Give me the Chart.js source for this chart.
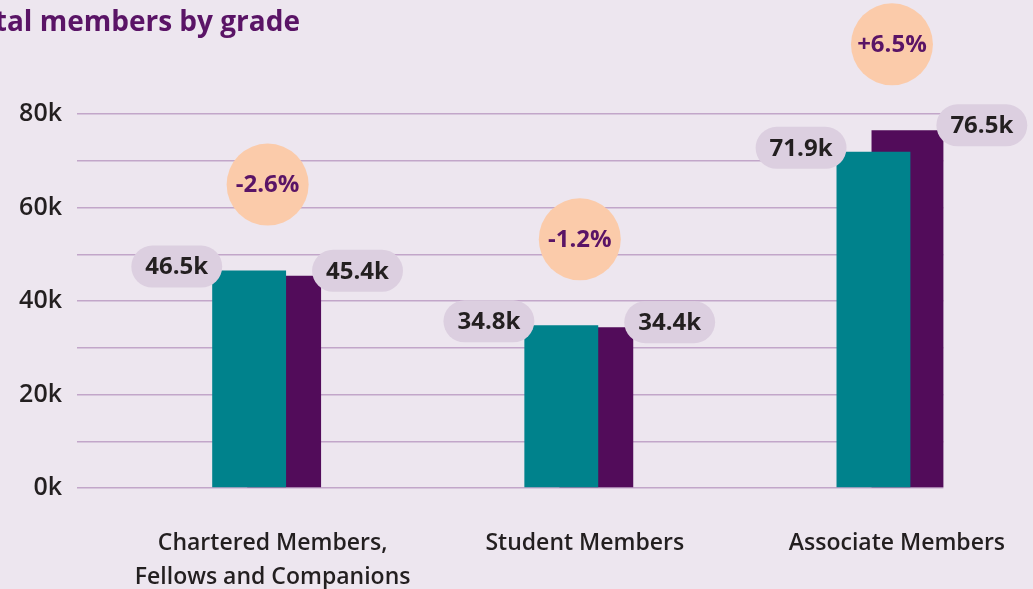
<!DOCTYPE html>
<html>
<head>
<meta charset="utf-8">
<title>Total members by grade</title>
<script src="https://cdn.jsdelivr.net/npm/chart.js@4.4.0/dist/chart.umd.min.js"></script>
<style>
  html, body { margin: 0; padding: 0; background: #ede6ef; overflow: hidden; }
  #wrap { position: relative; width: 1033px; height: 589px; }
  #title {
    position: absolute; right: 733px; top: 1px; white-space: nowrap;
    font: bold 28px "Open Sans"; line-height: 38px; color: #5a1466;
  }
  canvas { position: absolute; left: 0; top: 0; }
</style>
</head>
<body>
<div id="wrap">
  <canvas id="membersChart" width="1033" height="589"></canvas>
  <div id="title">Total members by grade</div>
</div>
<script>
// data
const categories = ['Chartered Members, Fellows and Companions', 'Student Members', 'Associate Members'];
const tickLabels = [['Chartered Members,', 'Fellows and Companions'], ['Student Members'], ['Associate Members']];
const previousYear = [46500, 34800, 71900];
const currentYear = [45400, 34400, 76500];
const changeLabels = ['-2.6%', '-1.2%', '+6.5%'];

const TEAL = '#00828c';
const PURPLE = '#520c5a';
const TEXT = '#231f20';
const FONT = '"Open Sans", sans-serif';
const X_MIN = -0.6075;
const X_MAX = 2.168;

const fmtK = v => (v / 1000).toFixed(1) + 'k';

function pill(ctx, text, edgeX, y, side) {
  ctx.font = 'bold 24px ' + FONT;
  const w = ctx.measureText(text).width + 28;
  const h = 42;
  const x = side === 'right' ? edgeX - w : edgeX;
  ctx.fillStyle = '#dccfe0';
  ctx.beginPath();
  ctx.roundRect(x, y - h / 2, w, h, h / 2);
  ctx.fill();
  ctx.fillStyle = TEXT;
  ctx.fillText(text, x + w / 2, y + 1);
}

// value pills and change bubbles
const annotate = {
  id: 'annotate',
  afterDatasetsDraw(chart) {
    const ctx = chart.ctx;
    const prev = chart.getDatasetMeta(0).data;
    const curr = chart.getDatasetMeta(1).data;
    ctx.save();
    ctx.textAlign = 'center';
    ctx.textBaseline = 'middle';
    categories.forEach((c, i) => {
      const a = prev[i], b = curr[i];
      pill(ctx, fmtK(previousYear[i]), a.x - a.width / 2 + 10, a.y - 4, 'right');
      pill(ctx, fmtK(currentYear[i]), b.x + b.width / 2 - 9, b.y - 5, 'left');

      const cx = chart.scales.x.getPixelForValue(i) + 1;
      const cy = Math.min(a.y, b.y) - 86;
      ctx.fillStyle = '#fbcbaa';
      ctx.beginPath();
      ctx.arc(cx, cy, 41, 0, Math.PI * 2);
      ctx.fill();
      ctx.fillStyle = '#5a1466';
      ctx.font = 'bold 24px ' + FONT;
      ctx.fillText(changeLabels[i], cx, cy + 1);
    });
    ctx.restore();
  }
};

new Chart(document.getElementById('membersChart'), {
  type: 'bar',
  data: {
    datasets: [
      {
        label: 'Last year',
        data: previousYear.map((v, i) => ({ x: i, y: v })),
        backgroundColor: TEAL,
        order: 1
      },
      {
        label: 'This year',
        data: currentYear.map((v, i) => ({ x: i, y: v })),
        backgroundColor: PURPLE,
        order: 2
      }
    ]
  },
  options: {
    responsive: false,
    animation: false,
    categoryPercentage: 0.2243,
    barPercentage: 2.11,
    layout: { padding: { top: 114, right: 65, left: 0, bottom: 0 } },
    plugins: { legend: { display: false }, tooltip: { enabled: false } },
    scales: {
      x: {
        type: 'linear',
        offset: false,
        bounds: 'data',
        min: X_MIN,
        max: X_MAX,
        afterBuildTicks: s => {
          s.ticks = categories.map((c, i) => ({ value: i }));
          s.min = X_MIN;
          s.max = X_MAX;
        },
        afterFit: s => { s.height = 101; },
        grid: { display: false, offset: false },
        border: { display: false },
        ticks: {
          autoSkip: false,
          maxRotation: 0,
          padding: 30,
          labelOffset: 6,
          color: TEXT,
          font: { family: FONT, size: 23, weight: '600', lineHeight: 1.5 },
          callback: v => tickLabels[v]
        }
      },
      y: {
        min: 0,
        max: 80000,
        afterFit: s => { s.width = 77; },
        grid: { color: '#c2a6c9', lineWidth: 1.5, drawTicks: false },
        border: { display: false },
        ticks: {
          stepSize: 10000,
          padding: 15,
          color: TEXT,
          font: { family: FONT, size: 25, weight: '600' },
          callback: v => (v % 20000 === 0 ? v / 1000 + 'k' : '')
        }
      }
    }
  },
  plugins: [annotate]
});
</script>
</body>
</html>
